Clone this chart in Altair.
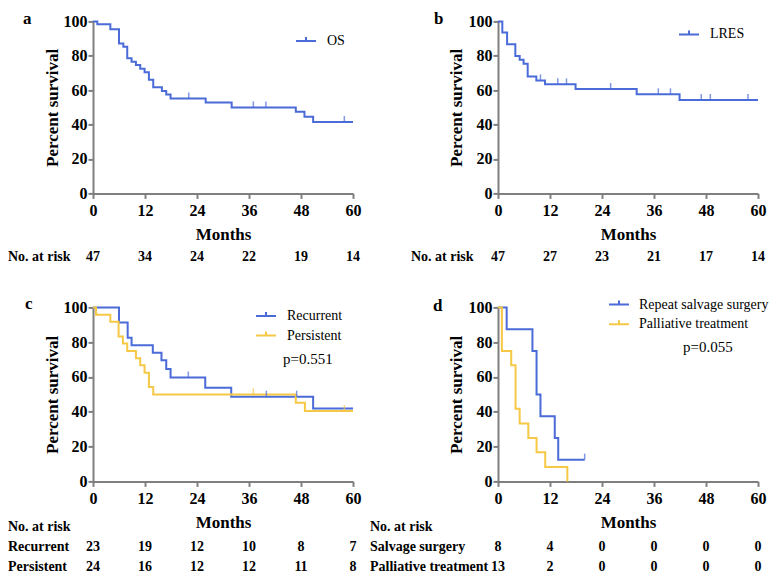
import altair as alt
import pandas as pd

FONT = "Liberation Serif"
BLUE = "#4a6bd8"
YELLOW = "#f5c845"
GRAY = "#7f7f7f"

RISK_MONTHS = [0, 12, 24, 36, 48, 60]

# Panel a: OS
A_T = [0, 1, 4, 6, 7, 7.9, 8.9, 9.9, 10.9, 11.9, 12.9, 13.9, 15.9, 16.9, 17.9, 26, 32, 46.8, 48.8, 50.8, 60]
A_S = [100, 98.3, 95.5, 87.2, 85.3, 78.6, 76.6, 74.6, 72.5, 70.5, 66.1, 61.7, 59.6, 57.5, 55.2, 52.8, 50.0, 47.5, 44.6, 41.5, 41.5]
A_CT = [22.1, 37, 39.9, 58]
A_CS = [55.2, 50.0, 50.0, 41.5]
A_RISK = [47, 34, 24, 22, 19, 14]

# Panel b: LRES
B_T = [0, 1.0, 2.1, 4.0, 5.0, 5.9, 6.85, 8.85, 10.85, 17.9, 32, 41.9, 60]
B_S = [100, 93.6, 86.7, 79.9, 77.7, 75.4, 68.0, 65.7, 63.4, 60.7, 57.6, 54.3, 54.3]
B_CT = [9.8, 13.8, 15.8, 26, 37, 39.8, 46.9, 49, 57.7]
B_CS = [65.7, 63.4, 63.4, 60.7, 57.6, 57.6, 54.3, 54.3, 54.3]
B_RISK = [47, 27, 23, 21, 17, 14]

# Panel c: Recurrent vs Persistent
C_REC_T = [0, 6, 8, 8.9, 13.8, 15.8, 16.9, 17.9, 25.9, 31.9, 50.8, 60]
C_REC_S = [100, 91.3, 82.6, 78.3, 73.9, 69.6, 64.6, 59.7, 53.8, 48.7, 41.9, 41.9]
C_REC_CT = [22, 40, 47]
C_REC_CS = [59.7, 48.7, 48.7]
C_PER_T = [0, 0.7, 4.0, 5.9, 6.9, 7.9, 9.9, 10.9, 11.9, 12.9, 13.9, 46.8, 48.9, 60]
C_PER_S = [100, 95.8, 91.7, 83.3, 79.2, 75.0, 70.8, 66.7, 62.5, 54.2, 50.0, 45.2, 40.4, 40.4]
C_PER_CT = [37, 58]
C_PER_CS = [50.0, 40.4]
C_REC_RISK = [23, 19, 12, 10, 8, 7]
C_PER_RISK = [24, 16, 12, 12, 11, 8]

# Panel d: Repeat salvage surgery vs Palliative treatment
D_SAL_T = [0, 2.0, 7.95, 8.9, 9.8, 13.1, 13.9, 20]
D_SAL_S = [100, 87.5, 75.0, 50.0, 37.5, 25.0, 12.5, 12.5]
D_SAL_CT = [20]
D_SAL_CS = [12.5]
D_PAL_T = [0, 0.9, 3.05, 4.05, 5.0, 7.0, 8.9, 10.9, 16]
D_PAL_S = [100, 75.0, 66.7, 41.7, 33.3, 25.0, 16.7, 8.3, 0]
D_SAL_RISK = [8, 4, 0, 0, 0, 0]
D_PAL_RISK = [13, 2, 0, 0, 0, 0]

W = 260
SYMBOL = "M-1,0H1M0,0V-0.4"


def x_enc():
    return alt.X("month:Q", scale=alt.Scale(domain=[0, 60], nice=False),
                 axis=alt.Axis(values=RISK_MONTHS, title="Months", grid=False,
                               domainColor=GRAY, domainWidth=2, tickColor=GRAY, tickWidth=2, tickSize=5,
                               labelFont=FONT, labelFontSize=16, labelFontWeight="bold", labelColor="black",
                               labelPadding=4, labelFlush=False,
                               titleFont=FONT, titleFontSize=17, titleFontWeight="bold", titleColor="black",
                               titlePadding=8))


def y_enc():
    return alt.Y("surv:Q", scale=alt.Scale(domain=[0, 100], nice=False),
                 axis=alt.Axis(values=[0, 20, 40, 60, 80, 100], title="Percent survival", grid=False,
                               domainColor=GRAY, domainWidth=2, tickColor=GRAY, tickWidth=2, tickSize=5,
                               labelFont=FONT, labelFontSize=16, labelFontWeight="bold", labelColor="black",
                               labelPadding=1, labelFlush=False,
                               titleFont=FONT, titleFontSize=17, titleFontWeight="bold", titleColor="black",
                               titlePadding=2))


def text_layer(label, x, y, size=14, weight="bold", align="left", baseline="middle"):
    return alt.Chart(pd.DataFrame({"t": [label]})).mark_text(
        font=FONT, fontSize=size, fontWeight=weight, align=align, baseline=baseline, color="black"
    ).encode(x=alt.value(x), y=alt.value(y), text="t:N")


def count_row(counts, yy):
    return alt.Chart(pd.DataFrame({"month": RISK_MONTHS, "n": [str(v) for v in counts]})).mark_text(
        font=FONT, fontSize=14, fontWeight="bold", baseline="middle", color="black"
    ).encode(x=alt.X("month:Q", scale=alt.Scale(domain=[0, 60], nice=False)), y=alt.value(yy), text="n:N")


def panel(letter, letter_x, letter_y, series, legend_x, legend_y, risk_rows, risk_y0, row_label_x, height,
          single_row=True, pval=None, pval_x=0, pval_y=0, label_offset=10):
    names = [s[0] for s in series]
    colors = [s[1] for s in series]
    cscale = alt.Scale(domain=names, range=colors)
    lines = pd.concat([pd.DataFrame({"series": n, "month": t, "surv": s}) for n, c, t, s, ct, cs in series])
    cens = pd.concat([pd.DataFrame({"series": n, "month": ct, "surv": cs}) for n, c, t, s, ct, cs in series])
    line = alt.Chart(lines).mark_line(interpolate="step-after", strokeWidth=2).encode(
        x=x_enc(), y=y_enc(),
        color=alt.Color("series:N", scale=cscale, legend=alt.Legend(
            title=None, orient="none", legendX=legend_x, legendY=legend_y, symbolType=SYMBOL,
            symbolSize=400, symbolStrokeWidth=2, labelFont=FONT, labelFontSize=14, labelColor="black",
            labelOffset=label_offset, rowPadding=1.7, padding=0, labelLimit=400)),
        order="month:Q")
    ticks = alt.Chart(cens).mark_tick(orient="vertical", size=6, thickness=1.5, yOffset=-3).encode(
        x=x_enc(), y=y_enc(), color=alt.Color("series:N", scale=cscale, legend=None))
    layers = [line, ticks, text_layer(letter, letter_x, letter_y, size=17, baseline="alphabetic")]
    if pval:
        layers.append(text_layer(pval, pval_x, pval_y, size=15, weight="normal"))
    if single_row:
        label, counts = risk_rows[0]
        layers.append(text_layer(label, row_label_x, risk_y0))
        layers.append(count_row(counts, risk_y0))
    else:
        layers.append(text_layer("No. at risk", row_label_x, risk_y0))
        for i, (label, counts) in enumerate(risk_rows):
            yy = risk_y0 + 20 * (i + 1)
            layers.append(text_layer(label, row_label_x, yy))
            layers.append(count_row(counts, yy))
    return alt.layer(*layers).properties(width=W, height=height)


pa = panel("a", -70, 2.7, [("OS", BLUE, A_T, A_S, A_CT, A_CS)], 202, 8.6,
           [("No. at risk", A_RISK)], 236, -85, 172)
pb = panel("b", -64, 2.7, [("LRES", BLUE, B_T, B_S, B_CT, B_CS)], 180, 2,
           [("No. at risk", B_RISK)], 236, -87, 172)
pc = panel("c", -68, 1.6, [("Recurrent", BLUE, C_REC_T, C_REC_S, C_REC_CT, C_REC_CS),
                           ("Persistent", YELLOW, C_PER_T, C_PER_S, C_PER_CT, C_PER_CS)], 162, -2.5,
           [("Recurrent", C_REC_RISK), ("Persistent", C_PER_RISK)], 219.5, -85, 174,
           single_row=False, pval="p=0.551", pval_x=190, pval_y=51.5)
pd_ = panel("d", -65, 3.3, [("Repeat salvage surgery", BLUE, D_SAL_T, D_SAL_S, D_SAL_CT, D_SAL_CS),
                            ("Palliative treatment", YELLOW, D_PAL_T, D_PAL_S, [], [])], 110, -13.8,
            [("Salvage surgery", D_SAL_RISK), ("Palliative treatment", D_PAL_RISK)], 219.5, -128, 174,
            single_row=False, pval="p=0.055", pval_x=185, pval_y=40, label_offset=9)

chart = alt.concat(pa, pb, pc, pd_, columns=2, spacing=alt.RowColnumber(row=114, column=145), bounds="flush") \
    .resolve_scale(color="independent", x="independent", y="independent") \
    .resolve_legend(color="independent") \
    .properties(padding={"left": 0, "top": 1.4, "right": 0, "bottom": 0}, background="white") \
    .configure_view(stroke=None)

chart.save("out.html", embed_options={"renderer": "svg", "actions": False})
